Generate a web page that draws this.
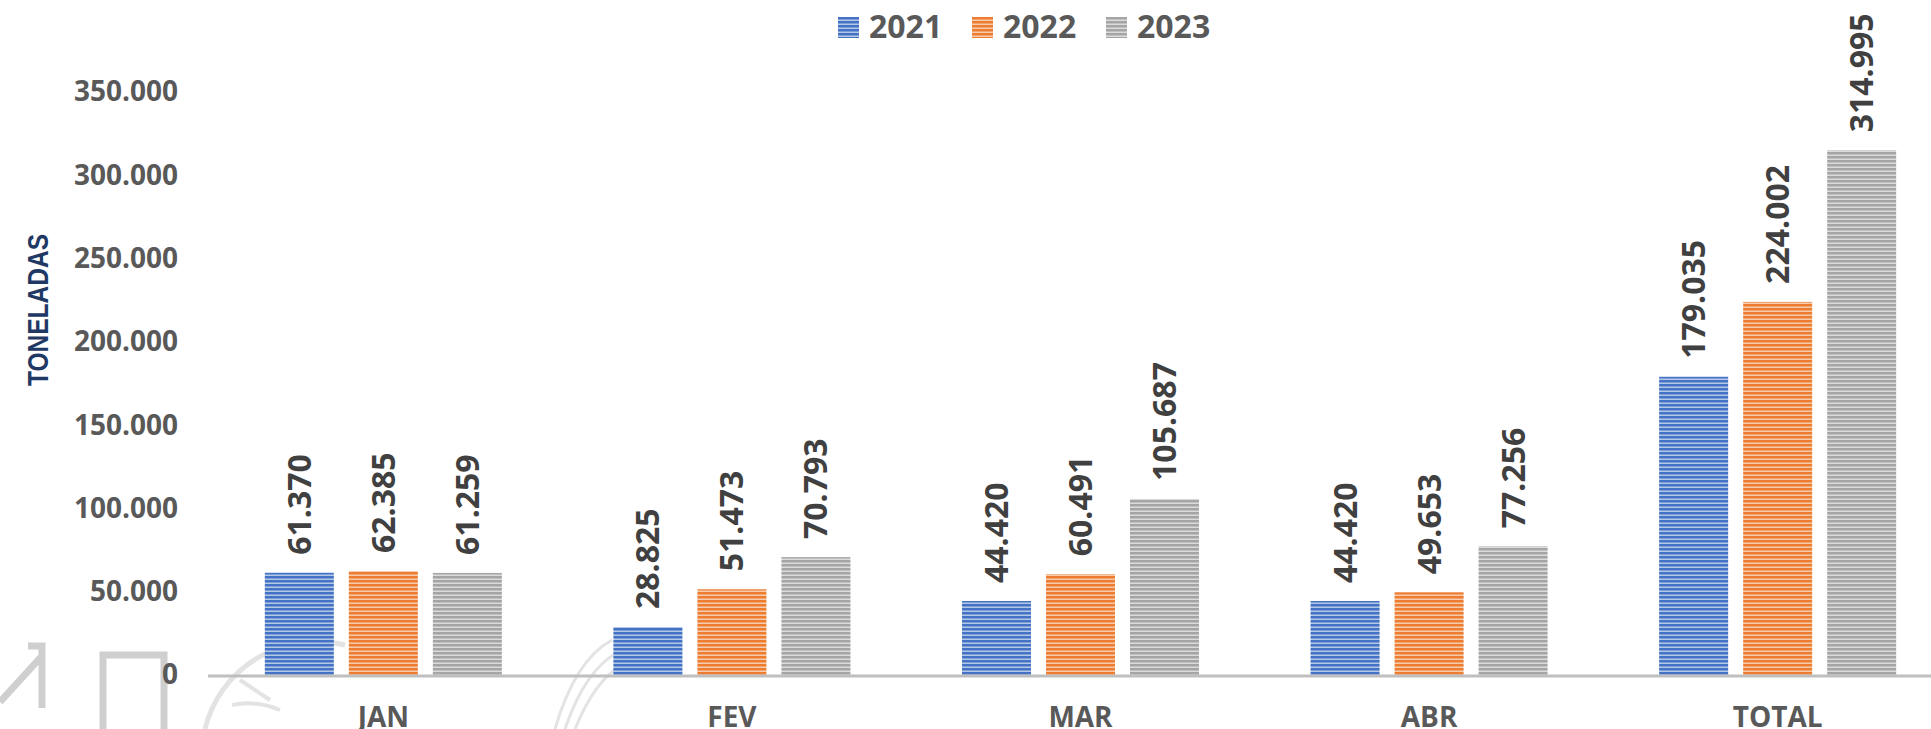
<!DOCTYPE html>
<html>
<head>
<meta charset="utf-8">
<script src="https://cdn.jsdelivr.net/npm/d3@7"></script>
<style>
  html, body { margin: 0; padding: 0; background: #fff; }
  svg { display: block; }
</style>
</head>
<body>
<div id="chart"></div>
<script>
// Data
const categories = ['JAN', 'FEV', 'MAR', 'ABR', 'TOTAL'];
const years = ['2021', '2022', '2023'];
const values2021 = [61370, 28825, 44420, 44420, 179035];
const values2022 = [62385, 51473, 60491, 49653, 224002];
const values2023 = [61259, 70793, 105687, 77256, 314995];
const yTicks = [0, 50000, 100000, 150000, 200000, 250000, 300000, 350000];

const seriesValues = { '2021': values2021, '2022': values2022, '2023': values2023 };
const colors = { '2021': '#4472C4', '2022': '#ED7D31', '2023': '#A5A5A5' };

const width = 1931;
const height = 729;
const fontFamily = "'Open Sans', 'Noto Sans', sans-serif";

// pt-BR style thousands separator
const locale = d3.formatLocale({ decimal: ',', thousands: '.', grouping: [3], currency: ['', ''] });
const fmt = locale.format(',d');

const svg = d3
  .select('#chart')
  .append('svg')
  .attr('width', width)
  .attr('height', height);

svg.append('rect').attr('width', width).attr('height', height).attr('fill', '#fff');

// striped fills, one per series
const defs = svg.append('defs');
years.forEach(yr => {
  const p = defs
    .append('pattern')
    .attr('id', 'stripe' + yr)
    .attr('patternUnits', 'userSpaceOnUse')
    .attr('width', 8)
    .attr('height', 4);
  p.append('rect').attr('width', 8).attr('height', 4).attr('fill', colors[yr]);
  p.append('rect')
    .attr('y', 2.5)
    .attr('width', 8)
    .attr('height', 1.5)
    .attr('fill', '#fff')
    .attr('opacity', 0.6);
});

// faint watermark shapes in the lower left
const wm = svg
  .append('g')
  .attr('fill', 'none')
  .attr('stroke', '#cfcfcf')
  .attr('stroke-width', 7);
wm.append('path').attr('d', 'M0,702 L41,657 M28,646 L42,646 L42,708');
wm.append('path').attr('d', 'M103,729 L103,655 L164,655 L164,729');
wm.append('path').attr('stroke', '#e3e3e3').attr('stroke-width', 5).attr('d', 'M205,729 A115,115 0 0 1 345,645');
wm.append('path').attr('stroke', '#e3e3e3').attr('stroke-width', 4).attr('d', 'M232,705 Q255,700 280,710 M240,680 L270,700');
wm.append('path').attr('stroke', '#e3e3e3').attr('stroke-width', 3).attr('d', 'M555,729 Q575,660 612,640 M565,729 Q585,670 618,652 M575,729 Q595,680 622,665');

// Scales
const x0 = d3
  .scaleBand()
  .domain(categories)
  .range([208, 1953])
  .paddingInner(0.32)
  .paddingOuter(0.163);

const x1 = d3
  .scaleBand()
  .domain(years)
  .range([0, x0.bandwidth()])
  .paddingInner(0.1786);

const y = d3
  .scaleLinear()
  .domain([0, 350000])
  .range([675, 92]);

// Y axis tick labels (no line)
const yAxis = d3
  .axisLeft(y)
  .tickValues(yTicks)
  .tickFormat(fmt)
  .tickSize(0)
  .tickPadding(0);

svg
  .append('g')
  .attr('transform', 'translate(178,0)')
  .call(yAxis)
  .call(g => g.select('.domain').remove())
  .selectAll('text')
  .attr('font-family', fontFamily)
  .attr('font-weight', 700)
  .attr('font-size', 28)
  .attr('fill', '#595959');

// Y axis title
svg
  .append('text')
  .text('TONELADAS')
  .attr('transform', 'translate(48,310) rotate(-90)')
  .attr('text-anchor', 'middle')
  .attr('font-family', "'Liberation Sans Narrow', 'Liberation Sans', sans-serif")
  .attr('font-weight', 700)
  .attr('font-size', 30)
  .attr('textLength', 152)
  .attr('lengthAdjust', 'spacingAndGlyphs')
  .attr('fill', '#1F3864');

// Bars
const groups = svg
  .append('g')
  .selectAll('g')
  .data(categories)
  .join('g')
  .attr('transform', d => `translate(${x0(d)},0)`);

const barData = (d, i) => years.map(yr => ({ year: yr, value: seriesValues[yr][i] }));

groups
  .selectAll('rect')
  .data(barData)
  .join('rect')
  .attr('x', d => x1(d.year))
  .attr('y', d => y(d.value))
  .attr('width', x1.bandwidth())
  .attr('height', d => y(0) - y(d.value))
  .attr('fill', d => `url(#stripe${d.year})`);

// Value labels, rotated
groups
  .selectAll('text')
  .data(barData)
  .join('text')
  .text(d => fmt(d.value))
  .attr('transform', d => `translate(${x1(d.year) + x1.bandwidth() / 2},${y(d.value) - 18}) rotate(-90)`)
  .attr('dy', '0.36em')
  .attr('text-anchor', 'start')
  .attr('font-family', fontFamily)
  .attr('font-weight', 700)
  .attr('font-size', 32)
  .attr('fill', '#404040');

// X axis line + category labels
svg
  .append('line')
  .attr('x1', 208)
  .attr('x2', width)
  .attr('y1', y(0) + 1)
  .attr('y2', y(0) + 1)
  .attr('stroke', '#bfbfbf')
  .attr('stroke-width', 3);

svg
  .append('g')
  .selectAll('text')
  .data(categories)
  .join('text')
  .text(d => d)
  .attr('x', d => x0(d) + x0.bandwidth() / 2)
  .attr('y', 727)
  .attr('text-anchor', 'middle')
  .attr('font-family', fontFamily)
  .attr('font-weight', 700)
  .attr('font-size', 28)
  .attr('fill', '#595959');

// Legend
const legend = svg
  .append('g')
  .selectAll('g')
  .data(years)
  .join('g')
  .attr('transform', (d, i) => `translate(${838 + i * 134},17)`);

legend
  .append('rect')
  .attr('width', 21)
  .attr('height', 21)
  .attr('fill', d => `url(#stripe${d})`);

legend
  .append('text')
  .text(d => d)
  .attr('x', 31)
  .attr('y', 21)
  .attr('font-family', fontFamily)
  .attr('font-weight', 700)
  .attr('font-size', 32)
  .attr('fill', '#595959');
</script>
</body>
</html>
